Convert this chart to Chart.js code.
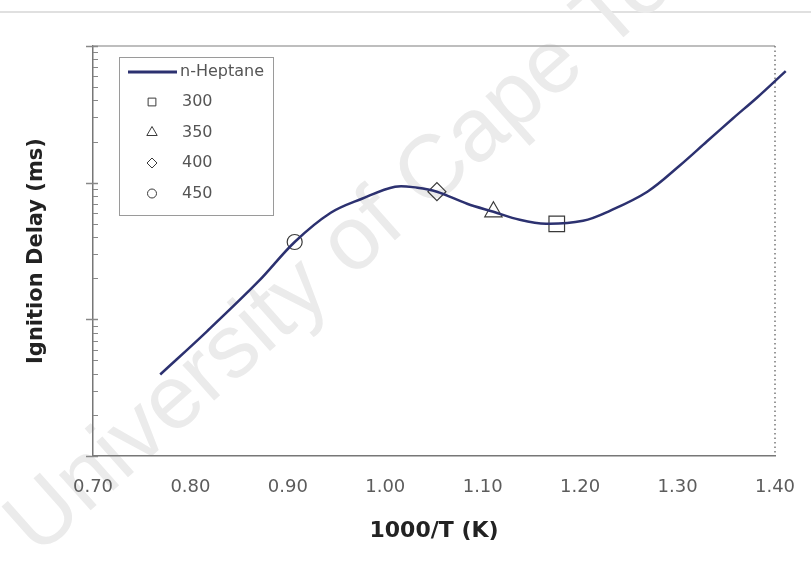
<!DOCTYPE html>
<html>
<head>
<meta charset="utf-8">
<script src="https://cdn.jsdelivr.net/npm/chart.js@4.4.1/dist/chart.umd.min.js"></script>
<style>
  html, body { margin: 0; padding: 0; background: #fff; }
  #wrap { width: 811px; height: 562px; }
</style>
</head>
<body>
<div id="wrap"><canvas id="delayChart" width="811" height="562"></canvas></div>
<script>
// n-Heptane ignition delay curve (1000/T, ms)
const curveX = [0.769, 0.817, 0.870, 0.907, 0.944, 0.976, 1.010, 1.033, 1.053, 1.084, 1.111,
                1.138, 1.165, 1.203, 1.230, 1.269, 1.302, 1.330, 1.357, 1.382, 1.411];
const curveY = [0.395, 0.817, 1.90, 3.68, 6.02, 7.63, 9.35, 9.18, 8.59, 7.01, 6.12,
                5.35, 5.00, 5.26, 6.20, 8.59, 13.3, 20.0, 29.6, 42.2, 65.5];

// single runs
const caseLabels = ['300', '350', '400', '450'];
const caseX = [1.176, 1.111, 1.053, 0.907];
const caseY = [5.00, 6.12, 8.59, 3.68];

const xTicks = [0.70, 0.80, 0.90, 1.00, 1.10, 1.20, 1.30, 1.40];
const yDecades = [0.1, 1, 10, 100];

const lineColor = '#2c3170';
const markColor = '#3a3a3a';
const caseMarkers = [
    { style: 'rect', r: 11, legendR: 5.5 },
    { style: 'triangle', r: 10, legendR: 6 },
    { style: 'rectRot', r: 9, legendR: 5 },
    { style: 'circle', r: 7.5, legendR: 4.5 }
];

Chart.defaults.font.family = '"DejaVu Sans", sans-serif';

const datasets = [{
    label: 'n-Heptane',
    data: curveX.map((x, i) => ({ x: x, y: curveY[i] })),
    showLine: true,
    borderColor: lineColor,
    borderWidth: 2.5,
    pointRadius: 0,
    tension: 0.35,
    clip: false
}];
caseLabels.forEach((lbl, i) => {
    datasets.push({
        label: lbl,
        data: [{ x: caseX[i], y: caseY[i] }],
        showLine: false,
        pointStyle: caseMarkers[i].style,
        pointRadius: caseMarkers[i].r,
        pointBorderColor: markColor,
        pointBackgroundColor: 'rgba(0,0,0,0)',
        pointBorderWidth: 1.2
    });
});

// background, watermark and plot frame
const framePlugin = {
    id: 'frame',
    beforeDraw(chart) {
        const ctx = chart.ctx;
        ctx.save();
        ctx.fillStyle = '#fff';
        ctx.fillRect(0, 0, chart.width, chart.height);

        ctx.strokeStyle = '#d6d6d6';
        ctx.lineWidth = 1.5;
        ctx.beginPath();
        ctx.moveTo(0, 12);
        ctx.lineTo(chart.width, 12);
        ctx.stroke();

        ctx.translate(21, 539);
        ctx.rotate(-41.6 * Math.PI / 180);
        ctx.font = '90px "Liberation Sans", Arial, sans-serif';
        ctx.fillStyle = '#ebebeb';
        ctx.textBaseline = 'middle';
        ctx.fillText('University of Cape Town', 0, 0);
        ctx.restore();
    },
    beforeDatasetsDraw(chart) {
        const { ctx, chartArea: a } = chart;
        ctx.save();
        ctx.strokeStyle = '#a8a8a8';
        ctx.lineWidth = 1.5;
        ctx.beginPath();
        ctx.moveTo(a.left, a.top);
        ctx.lineTo(a.right, a.top);
        ctx.stroke();
        ctx.setLineDash([1.5, 3]);
        ctx.strokeStyle = '#777';
        ctx.beginPath();
        ctx.moveTo(a.right, a.top);
        ctx.lineTo(a.right, a.bottom);
        ctx.stroke();
        ctx.restore();
    }
};

// boxed legend in the upper left corner
const legendBox = {
    id: 'legendBox',
    afterDraw(chart) {
        const ctx = chart.ctx;
        ctx.save();
        ctx.strokeStyle = '#9a9a9a';
        ctx.lineWidth = 1;
        ctx.strokeRect(119.5, 57.5, 154, 158);

        ctx.font = '16px "DejaVu Sans", sans-serif';
        ctx.fillStyle = '#555';
        ctx.textBaseline = 'middle';

        ctx.strokeStyle = lineColor;
        ctx.lineWidth = 3;
        ctx.beginPath();
        ctx.moveTo(128, 72);
        ctx.lineTo(177, 72);
        ctx.stroke();
        ctx.fillText(datasets[0].label, 180, 72);

        caseLabels.forEach((lbl, i) => {
            const y = 102 + i * 30.5;
            ctx.strokeStyle = markColor;
            ctx.fillStyle = 'rgba(0,0,0,0)';
            ctx.lineWidth = 1;
            Chart.helpers.drawPoint(ctx, {
                pointStyle: caseMarkers[i].style,
                radius: caseMarkers[i].legendR,
                rotation: 0,
                borderWidth: 1
            }, 152, y);
            ctx.fillStyle = '#555';
            ctx.fillText(lbl, 182, y);
        });
        ctx.restore();
    }
};

// y tick marks: decades cross the axis, the rest point inward
const yTickMarks = {
    id: 'yTickMarks',
    afterDraw(chart) {
        const { ctx, scales: { y } } = chart;
        const x0 = y.right;
        ctx.save();
        ctx.strokeStyle = '#888';
        y.ticks.forEach(t => {
            const py = Math.round(y.getPixelForValue(t.value)) + 0.5;
            const major = Math.abs(Math.log10(t.value) % 1) < 1e-9;
            ctx.lineWidth = major ? 1.5 : 1;
            ctx.beginPath();
            ctx.moveTo(major ? x0 - 7 : x0, py);
            ctx.lineTo(x0 + 5, py);
            ctx.stroke();
        });
        ctx.restore();
    }
};

new Chart(document.getElementById('delayChart'), {
    type: 'scatter',
    data: { datasets: datasets },
    options: {
        responsive: false,
        animation: false,
        layout: { padding: { left: 20, right: 36, top: 46, bottom: 18 } },
        plugins: {
            legend: { display: false },
            tooltip: { enabled: false }
        },
        scales: {
            x: {
                type: 'linear',
                min: 0.70,
                max: 1.40,
                afterBuildTicks: s => { s.ticks = xTicks.map(v => ({ value: v })); },
                afterFit: s => {
                    s.height = 88;
                    s.paddingRight = 0;
                },
                ticks: {
                    callback: v => v.toFixed(2),
                    color: '#5c5c5c',
                    font: { size: 18 },
                    padding: 21,
                    maxRotation: 0,
                    autoSkip: false
                },
                grid: { display: false, drawTicks: false },
                border: { display: true, color: '#777', width: 1.5 },
                title: {
                    display: true,
                    text: '1000/T (K)',
                    color: '#222',
                    font: { size: 22, weight: 'bold' },
                    padding: 0
                }
            },
            y: {
                type: 'logarithmic',
                min: 0.1,
                max: 100,
                afterBuildTicks: s => {
                    const t = [];
                    yDecades.slice(0, -1).forEach(d => {
                        for (let k = 1; k < 10; k++) t.push({ value: d * k });
                    });
                    t.push({ value: yDecades[yDecades.length - 1] });
                    s.ticks = t;
                },
                afterFit: s => { s.width = 73; },
                ticks: { callback: () => '', autoSkip: false, padding: 0 },
                grid: { display: false, drawTicks: false },
                border: { display: true, color: '#777', width: 1.5 },
                title: {
                    display: true,
                    text: 'Ignition Delay (ms)',
                    color: '#222',
                    font: { size: 21, weight: 'bold' },
                    padding: { top: 4, bottom: 0 }
                }
            }
        }
    },
    plugins: [framePlugin, legendBox, yTickMarks]
});
</script>
</body>
</html>
